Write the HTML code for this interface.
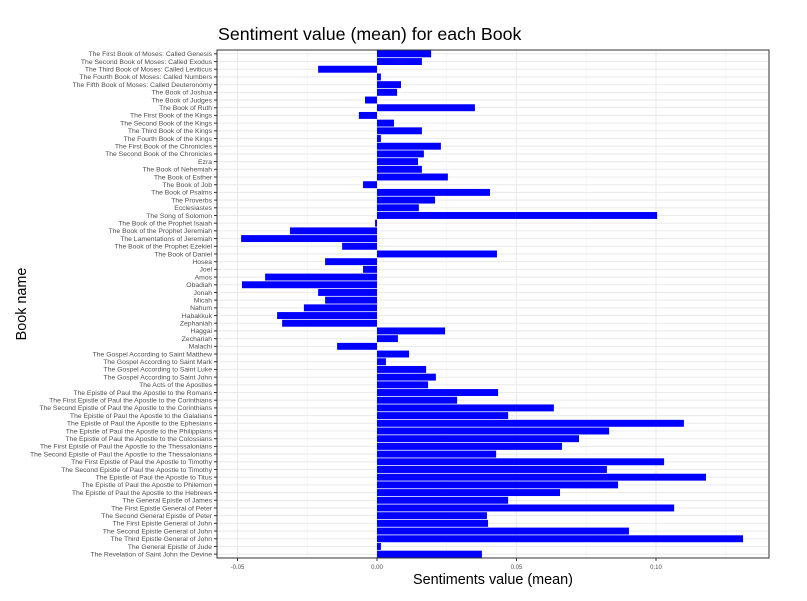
<!DOCTYPE html>
<html><head><meta charset="utf-8"><style>
body{margin:0;background:#fff;font-family:"Liberation Sans",sans-serif}
</style></head><body>
<svg id="c" width="807" height="596" xmlns="http://www.w3.org/2000/svg"></svg>
<script>
const books=["The First Book of Moses:  Called Genesis","The Second Book of Moses:  Called Exodus","The Third Book of Moses:  Called Leviticus","The Fourth Book of Moses:  Called Numbers","The Fifth Book of Moses:  Called Deuteronomy","The Book of Joshua","The Book of Judges","The Book of Ruth","The First Book of the Kings","The Second Book of the Kings","The Third Book of the Kings","The Fourth Book of the Kings","The First Book of the Chronicles","The Second Book of the Chronicles","Ezra","The Book of Nehemiah","The Book of Esther","The Book of Job","The Book of Psalms","The Proverbs","Ecclesiastes","The Song of Solomon","The Book of the Prophet Isaiah","The Book of the Prophet Jeremiah","The Lamentations of Jeremiah","The Book of the Prophet Ezekiel","The Book of Daniel","Hosea","Joel","Amos","Obadiah","Jonah","Micah","Nahum","Habakkuk","Zephaniah","Haggai","Zechariah","Malachi","The Gospel According to Saint Matthew","The Gospel According to Saint Mark","The Gospel According to Saint Luke","The Gospel According to Saint John","The Acts of the Apostles","The Epistle of Paul the Apostle to the Romans","The First Epistle of Paul the Apostle to the Corinthians","The Second Epistle of Paul the Apostle to the Corinthians","The Epistle of Paul the Apostle to the Galatians","The Epistle of Paul the Apostle to the Ephesians","The Epistle of Paul the Apostle to the Philippians","The Epistle of Paul the Apostle to the Colossians","The First Epistle of Paul the Apostle to the Thessalonians","The Second Epistle of Paul the Apostle to the Thessalonians","The First Epistle of Paul the Apostle to Timothy","The Second Epistle of Paul the Apostle to Timothy","The Epistle of Paul the Apostle to Titus","The Epistle of Paul the Apostle to Philemon","The Epistle of Paul the Apostle to the Hebrews","The General Epistle of James","The First Epistle General of Peter","The Second General Epistle of Peter","The First Epistle General of John","The Second Epistle General of John","The Third Epistle General of John","The General Epistle of Jude","The Revelation of Saint John the Devine"];
const sentiment=[0.0194,0.0161,-0.0211,0.0014,0.0086,0.0072,-0.0043,0.0351,-0.0065,0.0061,0.0161,0.0014,0.0229,0.0168,0.0147,0.0161,0.0254,-0.005,0.0405,0.0208,0.015,0.1004,-0.0007,-0.0312,-0.0487,-0.0125,0.043,-0.0186,-0.005,-0.0401,-0.0484,-0.0211,-0.0186,-0.0262,-0.0358,-0.034,0.0244,0.0075,-0.0143,0.0115,0.0032,0.0176,0.0211,0.0183,0.0434,0.0287,0.0634,0.047,0.110,0.0832,0.0724,0.0663,0.0427,0.1029,0.0824,0.1179,0.0864,0.0656,0.047,0.1065,0.0394,0.0398,0.0903,0.1312,0.0014,0.0376];
const xTicks=[-0.05,0,0.05,0.1];
const xTickLabels=["-0.05","0.00","0.05","0.10"];
const svg=document.getElementById('c');const NS="http://www.w3.org/2000/svg";
const L=217,R=769,T=50,B=558;
const x=v=>377+v*2790;
const step=(B-T)/books.length;
const y=i=>T+step*(i+0.5);
function mk(t,a,p){const e=document.createElementNS(NS,t);for(const k in a)e.setAttribute(k,a[k]);(p||svg).appendChild(e);return e;}
const panel=mk('rect',{x:L,y:T,width:R-L,height:B-T,fill:'#fff'});


for(let i=0;i<xTicks.length;i++){
 const m=mk('line',{x1:x(xTicks[i]+0.025),x2:x(xTicks[i]+0.025),y1:T,y2:B,stroke:'#f0f0f0','stroke-width':0.6});
 
 
 const g=mk('line',{x1:x(xTicks[i]),x2:x(xTicks[i]),y1:T,y2:B,stroke:'#ebebeb','stroke-width':1.1});
 
 
 const tk=mk('line',{x1:x(xTicks[i]),x2:x(xTicks[i]),y1:B,y2:B+3,stroke:'#333','stroke-width':1});
 
 
 const tl=mk('text',{x:x(xTicks[i]),y:B+11,'font-size':6,fill:'#4d4d4d','text-anchor':'middle'});
 tl.textContent=xTickLabels[i];
 
 
}
books.forEach((b,i)=>{
 const g=mk('line',{x1:L,x2:R,y1:y(i),y2:y(i),stroke:'#ebebeb','stroke-width':1.1});
 
 
});
books.forEach((b,i)=>{
 const v=sentiment[i],h=step*0.9;
 const r=mk('rect',{x:Math.min(x(0),x(v)),y:y(i)-h/2,width:Math.abs(x(v)-x(0)),height:h,fill:'#0000ff'});
 
 
 const tk=mk('line',{x1:L-3,x2:L,y1:y(i),y2:y(i),stroke:'#333','stroke-width':1});
 
 
 const t=mk('text',{x:L-5,y:y(i)+2.3,'font-size':6.8,fill:'#4d4d4d','text-anchor':'end'});
 t.textContent=b;
 
 
});
const br=mk('rect',{x:L,y:T,width:R-L,height:B-T,fill:'none',stroke:'#333','stroke-width':1});


const ti=mk('text',{x:218,y:40,'font-size':17.8,fill:'#000'});ti.textContent='Sentiment value (mean) for each Book';


const xt=mk('text',{x:493,y:584,'font-size':14.4,fill:'#000','text-anchor':'middle'});xt.textContent='Sentiments value (mean)';


const yt=mk('text',{x:26,y:304,'font-size':14.4,fill:'#000','text-anchor':'middle',transform:'rotate(-90 26 304)'});yt.textContent='Book name';


</script>
</body></html>
